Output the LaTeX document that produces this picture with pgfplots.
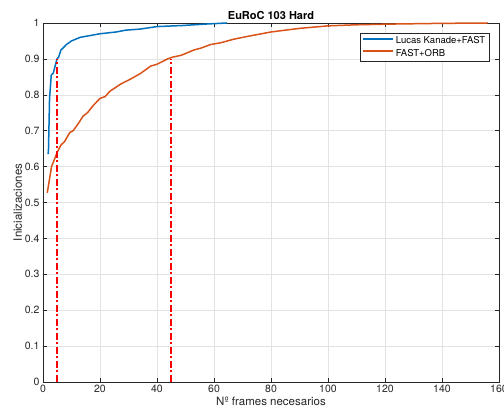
\documentclass[border=0pt]{standalone}
\usepackage{pgfplots}
\pgfplotsset{compat=1.18}
\usepackage{fontspec}
\setmainfont{TeX Gyre Heros}
\definecolor{mblue}{rgb}{0,0.447,0.741}
\definecolor{morange}{rgb}{0.851,0.325,0.098}
\definecolor{maxis}{rgb}{0.15,0.15,0.15}
\begin{document}
\begin{tikzpicture}
\begin{axis}[
  name=ax,
  scale only axis,
  width=456pt, height=359pt,
  xmin=0, xmax=160, ymin=0, ymax=1,
  xtick={0,20,...,160},
  ytick={0,0.1,...,1},
  yticklabels={0,0.1,0.2,0.3,0.4,0.5,0.6,0.7,0.8,0.9,1},
  /pgf/number format/assume math mode=true,
  tick align=inside,
  tick pos=both,
  major tick length=4pt,
  every tick/.style={maxis, line width=0.5pt},
  axis line style={maxis, line width=0.5pt},
  tick label style={font=\fontsize{10.5}{12}\selectfont, text=maxis},
  grid=major,
  grid style={gray!22, line width=0.5pt},
  title={\textbf{EuRoC 103 Hard}},
  title style={font=\fontsize{11}{12}\selectfont, yshift=-6pt},
  xlabel={Nº frames necesarios},
  ylabel={Inicializaciones},
  label style={font=\fontsize{11.5}{13}\selectfont, text=maxis},
  xlabel style={yshift=3pt},
  ylabel style={yshift=-4pt},
  legend style={at={(0.978,0.972)}, anchor=north east, draw=maxis,
    font=\fontsize{9.5}{10}\selectfont, row sep=0pt, inner sep=1.5pt},
  legend cell align=left,
  legend image code/.code={\draw[#1, line width=2pt] (0pt,0.25em) -- (30pt,0.25em);},
]
\addplot[mblue, line width=1.5pt] coordinates {
(1.5,0.637)(1.9,0.637)(2.3,0.79)(2.9,0.855)(3.6,0.86)(4.9,0.90)(5.5,0.905)(6.3,0.925)(7,0.93)(8.2,0.94)(10,0.95)(13,0.96)(16.5,0.965)(20,0.97)(25.7,0.975)(29,0.98)(34,0.983)(40,0.99)(49,0.993)(57,0.997)(64.5,1.0)
};
\addlegendentry{Lucas Kanade+FAST}
\addplot[morange, line width=1.5pt] coordinates {
(1.5,0.527)(3,0.60)(4,0.62)(5,0.64)(6.3,0.66)(7.6,0.67)(9.4,0.695)(10.6,0.70)(12.4,0.72)(14,0.74)(15.6,0.75)(17.6,0.77)(20,0.79)(21.8,0.795)(23.5,0.81)(27.3,0.83)(31,0.845)(34.3,0.86)(37.8,0.88)(40,0.885)(43.7,0.9)(45.5,0.905)(48.5,0.91)(53,0.925)(55.4,0.93)(58.8,0.94)(62.4,0.945)(67,0.955)(72,0.963)(80,0.975)(90,0.985)(100,0.992)(110,0.995)(122,0.997)(140,0.999)(156,1.0)
};
\addlegendentry{FAST+ORB}
\addplot[red, line width=1.5pt, dash pattern=on 7pt off 2.5pt on 2pt off 2.5pt, forget plot] coordinates {(5,0)(5,0.9)};
\addplot[red, line width=1.5pt, dash pattern=on 7pt off 2.5pt on 2pt off 2.5pt, forget plot] coordinates {(45,0)(45,0.9)};
\end{axis}
\pgfresetboundingbox
\path ([shift={(-43pt,-35pt)}]ax.south west) rectangle ([shift={(5pt,23pt)}]ax.north east);
\end{tikzpicture}
\end{document}
